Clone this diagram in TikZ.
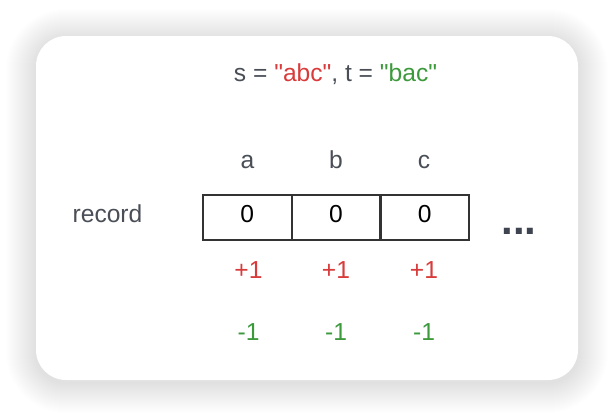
\documentclass[tikz,border=0pt]{standalone}
\usepackage{fontspec}
\setmainfont{Liberation Sans}[Ligatures=TeXOff]
\definecolor{txtgray}{HTML}{4A4F57}
\definecolor{linegray}{HTML}{333333}
\definecolor{dotgray}{HTML}{3F4550}
\definecolor{redt}{HTML}{D93A3A}
\definecolor{greent}{HTML}{3C9A3C}
\tikzset{
  big/.style={font=\fontsize{24.6}{28}\selectfont, inner sep=0pt},
  lbl/.style={big, text=txtgray, anchor=base},
  cell/.style={big, draw=linegray, line width=2pt, minimum width=89pt, minimum height=45pt,
    text height=17.6pt, text depth=7.4pt, text=black},
  plus/.style={big, text=redt, anchor=base},
  minus/.style={big, text=greent, anchor=base},
  shadowlayer/.style={fill=black, fill opacity=0.0058},
}
\begin{document}
\begin{tikzpicture}[x=1pt,y=-1pt]
\useasboundingbox (0,0) rectangle (614,416);
\fill[white] (0,0) rectangle (614,416);
\foreach \k in {1,...,30}{
  \fill[shadowlayer, rounded corners={30pt+\k pt}] (36-\k,36-\k+3) rectangle (578+\k,380+\k+3);
}
\node[fill=white, rounded corners=30pt, minimum width=542pt, minimum height=344pt, inner sep=0pt] (card) at (307,208) {};
\node[lbl] (title) at (335.5,81.7) {s = \textcolor{redt}{"abc"}, t = \textcolor{greent}{"bac"}};
\node[lbl] (la) at (247.5,168) {a};
\node[lbl] (lb) at (336,168) {b};
\node[lbl] (lc) at (424,168) {c};
\node[lbl] (rec) at (107.5,222) {record};
\node[cell] (c1) at (247.3,217.3) {0};
\node[cell] (c2) at (336,217.3) {0};
\node[cell] (c3) at (424.7,217.3) {0};
\node[lbl, text=dotgray, font=\fontsize{42}{46}\selectfont\bfseries] (dots) at (519,234) {...};
\node[plus] (p1) at (248.5,278) {+1};
\node[plus] (p2) at (336,278) {+1};
\node[plus] (p3) at (424,278) {+1};
\node[minus] (m1) at (248.5,340) {-1};
\node[minus] (m2) at (336,340) {-1};
\node[minus] (m3) at (424,340) {-1};
\end{tikzpicture}
\end{document}
